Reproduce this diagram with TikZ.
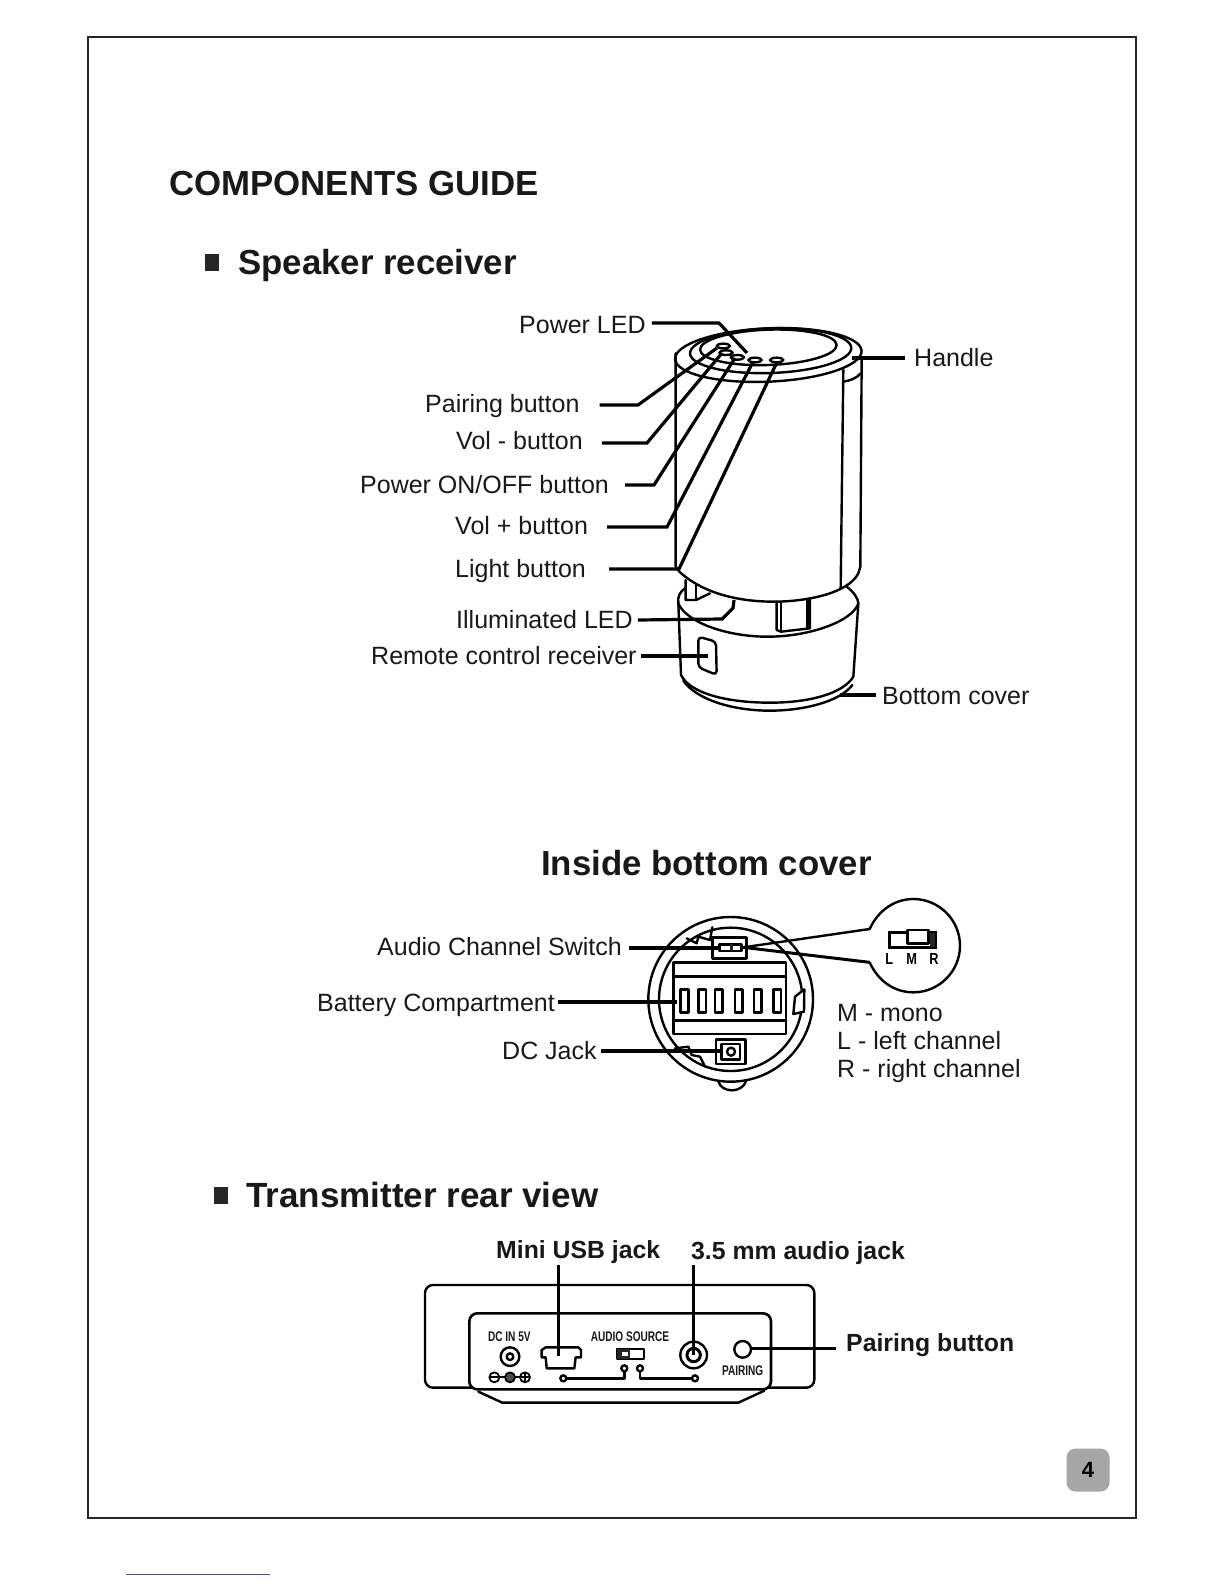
\documentclass[tikz,border=0pt]{standalone}
\usepackage{fontspec}
\setmainfont{Liberation Sans}
\tikzset{
 lab/.style={anchor=base west,inner sep=0pt,font=\fontsize{25}{30}\selectfont,text=black!90},
 boldlab/.style={anchor=base west,inner sep=0pt,font=\fontsize{24.8}{30}\selectfont\bfseries,text=black!90},
 head/.style={anchor=base west,inner sep=0pt,font=\fontsize{34.8}{40}\selectfont\bfseries,text=black!90},
 leader/.style={line width=3.2pt,line join=miter},
 art/.style={line width=2.4pt,line join=round,line cap=round},
 thinart/.style={line width=1.8pt,line join=round},
 tiny/.style={inner sep=0pt,font=\fontsize{14}{16}\selectfont\bfseries,xscale=.72,text=black!90},
 tinyb/.style={inner sep=0pt,font=\fontsize{16}{18}\selectfont\bfseries,xscale=.8,text=black},
}
\begin{document}
\begin{tikzpicture}[x=1pt,y=-1pt]
\useasboundingbox (0,0) rectangle (1224,1584);
\fill[white] (0,0) rectangle (1224,1584);
\draw[line width=2.4pt,black!85] (88,37) rectangle (1136,1518);
\draw[line width=1pt,blue!55!black!70] (126,1574) -- (270,1574);

% headings
\node[head] (title) at (169,195) {COMPONENTS GUIDE};
\fill[black!85] (205,254) rectangle (219,271);
\node[head] (spk) at (238,274) {Speaker receiver};
\node[head] (ins) at (541,875) {Inside bottom cover};
\fill[black!85] (214,1187) rectangle (228,1204);
\node[head,font=\fontsize{35}{40}\selectfont\bfseries] (trn) at (246,1207) {Transmitter rear view};

% labels
\node[lab] (lpower) at (519,333) {Power LED};
\node[lab] (lhandle) at (914,366) {Handle};
\node[lab] (lpair) at (425,412.5) {Pairing button};
\node[lab] (lvolm) at (456,449) {Vol - button};
\node[lab] (lonoff) at (360,493) {Power ON/OFF button};
\node[lab] (lvolp) at (455,534) {Vol + button};
\node[lab] (llight) at (455,577) {Light button};
\node[lab] (lillum) at (456,628) {Illuminated LED};
\node[lab] (lremote) at (371,664) {Remote control receiver};
\node[lab] (lbottom) at (882,704) {Bottom cover};
\node[lab] (laudio) at (377,955) {Audio Channel Switch};
\node[lab] (lbatt) at (317,1011) {Battery Compartment};
\node[lab] (ldc) at (502,1059) {DC Jack};
\node[lab] (lm) at (837,1021) {M - mono};
\node[lab] (ll) at (837,1049) {L - left channel};
\node[lab] (lr) at (837,1077) {R - right channel};
\node[boldlab] (lusb) at (496,1258) {Mini USB jack};
\node[boldlab] (ljack) at (691,1259) {3.5 mm audio jack};
\node[boldlab] (lpb) at (846,1351) {Pairing button};

% cylinder (zoom coordinates)
\begin{scope}[shift={(640,310)},scale=1/3]
 \draw[art,rotate around={2.5:(385,135)}] (385,135) ellipse [x radius=280,y radius=80];
 \draw[art,rotate around={2:(392,122)}] (392,122) ellipse [x radius=242,y radius=67];
 \draw[art,rotate around={2:(385,112)}] (385,112) ellipse [x radius=205,y radius=53];
 \foreach \n/\cx/\cy in {a/250/108,b/258/128,c/292/142,d/345/150,e/410/150}
   \draw[art] (\cx,\cy) ellipse [x radius=20,y radius=7];
 \draw[art] (107,130) -- (107,770) -- (118,785)
   .. controls (200,860) and (320,875) .. (400,875)
   .. controls (500,875) and (625,850) .. (655,790) -- (661,770) -- (665,150);
 \draw[art] (610,180) -- (602,835);
 \draw[art] (610,215) .. controls (630,212) and (650,205) .. (662,190);
\end{scope}

% base
\begin{scope}[shift={(620,560)},scale=1/3]
 \draw[art] (195,85) .. controls (180,95) and (172,110) .. (175,130)
   .. controls (200,190) and (330,232) .. (450,230)
   .. controls (580,228) and (700,180) .. (715,130)
   .. controls (715,115) and (700,95) .. (680,80);
 \draw[art] (175,130) -- (183,345) .. controls (210,400) and (320,428) .. (450,428)
   .. controls (570,428) and (670,400) .. (700,350) -- (715,130);
 \draw[art] (190,362) .. controls (230,420) and (340,452) .. (450,452)
   .. controls (550,452) and (660,425) .. (697,375);
 \draw[art,rounded corners=4pt] (235,230) -- (288,245) -- (290,345) -- (235,322) -- cycle;
 \draw[art] (470,125) -- (470,210) -- (483,215) -- (570,205) -- (570,117);
 \draw[art] (483,125) -- (483,215);
 \draw[art] (562,117) -- (562,205);
 \draw[art] (197,60) -- (197,120) -- (228,120) -- (270,100);
 \draw[art] (228,75) -- (228,120);
\end{scope}

% leaders, speaker
\coordinate (epower) at (747,353);
\coordinate (bpower) at (719,323);
\draw[leader] ([xshift=6pt]lpower.east |- 0,323) -- (bpower) -- (epower);
\coordinate (ehandle) at (852,358);
\draw[leader] (ehandle) -- ([xshift=-9pt]lhandle.west |- 0,358);
\coordinate (bpair) at (638,405); \coordinate (epair) at (717,348);
\draw[leader] ([xshift=20pt]lpair.east |- 0,405) -- (bpair) -- (epair);
\coordinate (bvolm) at (647,443); \coordinate (evolm) at (722,353);
\draw[leader] ([xshift=19pt]lvolm.east |- 0,443) -- (bvolm) -- (evolm);
\coordinate (bonoff) at (654,485); \coordinate (eonoff) at (735,358);
\draw[leader] ([xshift=16pt]lonoff.east |- 0,485) -- (bonoff) -- (eonoff);
\coordinate (bvolp) at (667,527); \coordinate (evolp) at (753,362);
\draw[leader] ([xshift=19pt]lvolp.east |- 0,527) -- (bvolp) -- (evolp);
\coordinate (blight) at (679,569); \coordinate (elight) at (777,362);
\draw[leader] ([xshift=23pt]llight.east |- 0,569) -- (blight) -- (elight);
\coordinate (b1illum) at (722,619); \coordinate (b2illum) at (733,608); \coordinate (eillum) at (734,600);
\draw[leader] ([xshift=5pt]lillum.east |- 0,620) -- (b1illum) -- (b2illum) -- (eillum);
\coordinate (eremote) at (708,656);
\draw[leader] ([xshift=4pt]lremote.east |- 0,656) -- (eremote);
\coordinate (ebottom) at (840,695);
\draw[leader] (ebottom) -- ([xshift=-6pt]lbottom.west |- 0,695);

% inside bottom cover
\begin{scope}[shift={(620,890)},scale=1/3]
 \draw[art] (332,328) circle [radius=247];
 \draw[art] (332,328) circle [radius=215];
 \draw[art] (200,145) -- (230,160) -- (235,140) -- (270,150) -- (277,112);
 \draw[art] (165,475) -- (205,470) -- (215,495) -- (240,500) -- (255,530);
 \draw[art,fill=white] (278,143) rectangle (380,205);
 \draw[art] (298,163) rectangle (365,183);
 \fill[black!85] (330,163) rectangle (340,183);
 \draw[art,fill=white] (160,218) rectangle (498,432);
 \draw[art] (160,260) -- (498,260);
 \draw[art] (160,392) -- (498,392);
 \foreach \sx in {182,235,285,345,402,460}
   \draw[art] (\sx,298) rectangle (\sx+23,368);
 \draw[art,fill=white] (525,320) -- (553,298) -- (552,365) -- (520,372) -- cycle;
 \draw[art,fill=white] (288,448) rectangle (376,522);
 \draw[art] (305,462) rectangle (360,508);
 \draw[art] (333,485) circle [radius=12];
 \draw[art] (295,574) .. controls (305,610) and (365,610) .. (378,574);
 % callout
 \coordinate (calla) at (749,117);
 \coordinate (callb) at (749,217);
 \coordinate (swt) at (370,172);
 \draw[art] (calla) .. controls (775,60) and (825,27) .. (880,27)
    .. controls (957,27) and (1020,90) .. (1020,167)
    .. controls (1020,244) and (957,307) .. (880,307)
    .. controls (825,307) and (775,275) .. (callb);
 \draw[art] (swt) -- (calla);
 \draw[line width=3pt] (swt) -- (callb);
 \draw[line width=3pt] (862,127) -- (808,127) -- (808,172) -- (945,172) -- (945,127) -- (925,127);
 \draw[art,fill=white] (862,120) -- (925,120) -- (925,160) -- (862,160) -- cycle;
 \fill[black!85] (930,130) rectangle (945,170);
 \node[tinyb] (sl) at (808,206) {L};
 \node[tinyb] (sm) at (875,206) {M};
 \node[tinyb] (sr) at (942,206) {R};
\end{scope}
\coordinate (eaudio) at (720,948);
\draw[leader] ([xshift=7pt]laudio.east |- 0,948) -- (eaudio);
\coordinate (ebatt) at (677,1002);
\draw[leader] ([xshift=3pt]lbatt.east |- 0,1002) -- (ebatt);
\coordinate (edc) at (720,1051);
\draw[leader] ([xshift=4pt]ldc.east |- 0,1051) -- (edc);

% transmitter
\begin{scope}[shift={(415,1270)},scale=1/3]
 \draw[art,rounded corners=8pt] (30,45) rectangle (1198,353);
 \draw[line width=2.6pt,rounded corners=8pt,fill=white] (163,130) rectangle (1068,358);
 \draw[art] (190,365) -- (262,398) -- (970,398) -- (1048,362);
 \draw[art] (285,260) circle [radius=28];
 \draw[art] (285,260) circle [radius=10];
 \draw[thinart] (238,322) circle [radius=15];
 \draw[thinart] (226,322) -- (250,322);
 \draw[thinart,fill=black!70] (285,322) circle [radius=15];
 \draw[thinart] (330,322) circle [radius=15];
 \draw[thinart] (318,322) -- (342,322) (330,310) -- (330,334);
 \draw[thinart] (253,322) -- (270,322) (300,322) -- (315,322);
 \node[tiny] (tdc) at (283,200) {DC IN 5V};
 \node[tiny] (tas) at (645,200) {AUDIO SOURCE};
 \node[tiny] (tp) at (983,302) {PAIRING};
 \draw[art] (392,232) -- (490,232) -- (498,240) -- (498,262) -- (482,262) -- (478,295) -- (395,295) -- (392,262) -- (380,262) -- (380,240) -- cycle;
 \draw[thinart] (607,237) rectangle (687,268);
 \fill[black!85] (607,237) rectangle (645,268);
 \fill[white] (622,247) rectangle (640,258);
 \draw[art] (836,255) circle [radius=40];
 \draw[line width=3pt] (836,255) circle [radius=20];
 \draw[art] (983,238) circle [radius=25];
 \draw[art] (445,325) circle [radius=9];
 \draw[art] (628,295) circle [radius=9];
 \draw[art] (675,295) circle [radius=9];
 \draw[art] (840,325) circle [radius=9];
 \draw[art] (454,325) -- (628,325) -- (628,304);
 \draw[art] (675,304) -- (675,325) -- (831,325);
 \coordinate (eusb) at (430,258);
 \coordinate (ejack) at (836,255);
 \coordinate (epb) at (1008,235);
\end{scope}
\draw[leader] (eusb |- 0,1265) -- (eusb);
\draw[leader] (ejack |- 0,1265) -- (ejack);
\draw[leader] (epb) -- ([xshift=-10pt]lpb.west |- epb);

% page number
\node[fill=black!35,rounded corners=9pt,minimum width=43pt,minimum height=43pt,inner sep=0pt,font=\fontsize{22}{24}\selectfont\bfseries] (pg) at (1088,1470) {4};
\end{tikzpicture}
\end{document}
